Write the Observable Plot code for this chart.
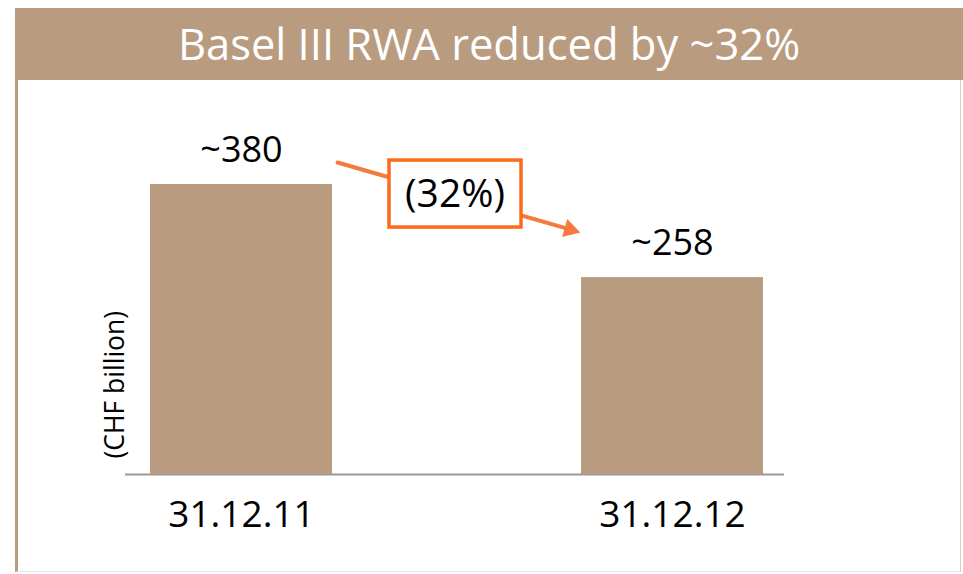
<!DOCTYPE html>
<html><head><meta charset="utf-8">
<script src="https://cdn.jsdelivr.net/npm/d3@7"></script>
<script src="https://cdn.jsdelivr.net/npm/@observablehq/plot@0.6"></script>
<style>
html,body{margin:0;padding:0;background:#fff;}
#wrap{position:relative;width:963px;height:574px;overflow:hidden;font-family:"Open Sans",sans-serif;}
#header{position:absolute;left:15px;top:8px;width:948px;height:72px;background:#b99c80;color:#fff;font-size:43.5px;line-height:72px;text-align:center;}
#frame{position:absolute;left:15px;top:80px;width:942px;height:491px;border-left:3px solid #b99c80;border-right:1px solid #d9cdc0;border-bottom:1px solid #e6e6e6;}
#chart{position:absolute;left:0;top:80px;}
</style></head><body>
<div id="wrap"><div id="header">Basel III RWA reduced by ~32%</div><div id="frame"></div><div id="chart"></div></div>
<script>
// Data
const categories = ["31.12.11", "31.12.12"];
const values = [380, 258];
const valueLabels = ["~380", "~258"];
const unitLabel = "(CHF billion)";
const changeLabel = "(32%)";

const data = categories.map((c, i) => ({date: c, value: values[i], label: valueLabels[i]}));

const brown = "#b99c80";
const boxOrange = "#fc6a1c";
const arrowOrange = "#f47a3e";

const chart = Plot.plot({
  width: 963,
  height: 494,
  marginLeft: 125,
  marginRight: 179,
  marginTop: 104,
  marginBottom: 100,
  style: {background: "transparent", fontFamily: "'Open Sans', sans-serif", color: "#000", overflow: "visible"},
  x: {domain: categories, range: [149, 763], paddingInner: 0.578, paddingOuter: 0},
  y: {domain: [0, 380], range: [394, 104], axis: null},
  marks: [
    Plot.ruleY([0], {stroke: "#999", strokeWidth: 2}),
    Plot.barY(data, {x: "date", y: "value", fill: brown}),
    Plot.text(data, {x: "date", y: "value", text: "label", dy: -34, fontSize: 36, fill: "#000"}),
    Plot.axisX({tickSize: 0, tickPadding: 26, fontSize: 37, label: null, fill: "#000"}),
    Plot.text([unitLabel], {frameAnchor: "bottom-left", rotate: -90, textAnchor: "start", dx: -2, dy: -16, fontSize: 26.5, text: d => d, fill: "#000"}),
    // callout arrow from first bar to second bar
    Plot.arrow([0], {x1: () => categories[0], x2: () => categories[1], y1: () => 445.1, y2: () => 282.4,
      insetStart: 100, insetEnd: 104, headLength: 0, stroke: arrowOrange, strokeWidth: 4}),
    Plot.dot([0], {x: () => categories[1], y: () => 321.1, symbol: "triangle", r: 7, fill: arrowOrange, stroke: "none", rotate: 106, dx: -102.6}),
    Plot.rect([0], {y1: () => 411.4, y2: () => 323.6, insetLeft: 264, insetRight: 263, fill: "#fff", stroke: boxOrange, strokeWidth: 3.5}),
    Plot.text([changeLabel], {y: () => 367.5, text: d => d, fontSize: 39, fill: "#000"})
  ]
});
document.getElementById("chart").appendChild(chart);
</script>
</body></html>
